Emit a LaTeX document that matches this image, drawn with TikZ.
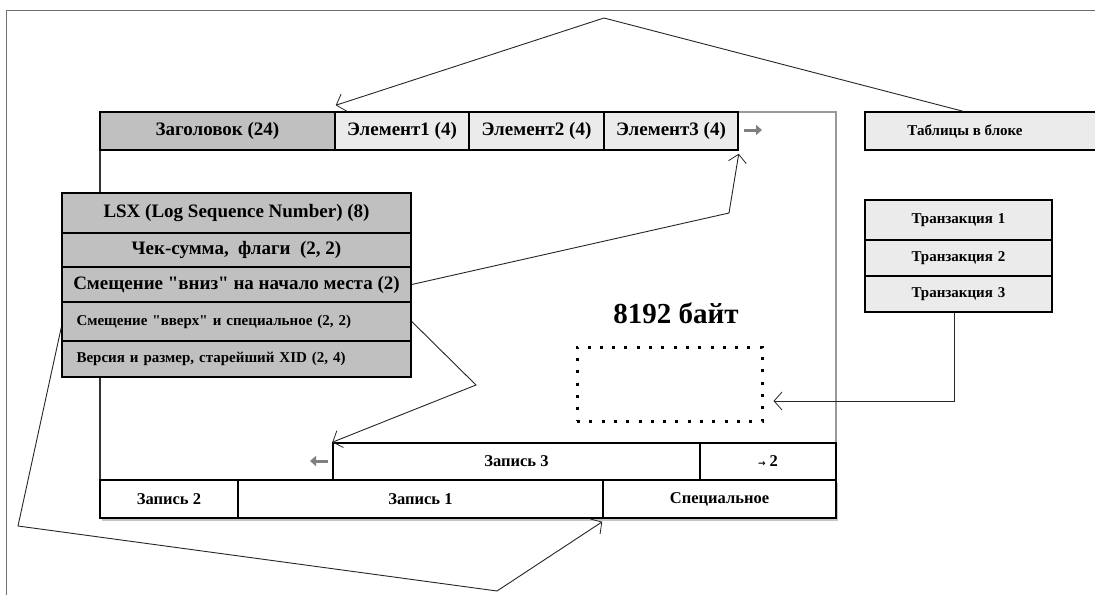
\documentclass[tikz,border=0pt]{standalone}
\usepackage{fontspec}
\setmainfont{Liberation Serif}[Ligatures=TeXOff]
\newfontfamily\symfont{DejaVu Sans}
\usetikzlibrary{arrows.meta,shadows}
\definecolor{cellgray}{HTML}{C0C0C0}
\definecolor{celllight}{HTML}{EBEBEB}
\definecolor{framegray}{HTML}{6E6E6E}
\tikzset{
  cell/.style={draw=black, line width=1.5pt, inner sep=0pt, font=\bfseries},
  big/.style={font=\fontsize{19}{19}\selectfont\bfseries},
  mid/.style={font=\fontsize{16.5}{17}\selectfont\bfseries},
  small/.style={font=\fontsize{15}{15}\selectfont\bfseries},
  shad/.style={drop shadow={shadow xshift=2pt, shadow yshift=-2.5pt, opacity=0.45}},
  conn/.style={draw=black!85, line width=0.9pt},
  tip/.style={-{Straight Barb[length=8pt,width=18pt,line width=0.8pt]}},
  grayarrow/.style={draw=gray, line width=3pt, -{Triangle[length=6pt,width=10pt]}},
}
\begin{document}
\begin{tikzpicture}[x=1pt,y=-1pt]
\useasboundingbox (0,0) rectangle (1095,595);
\fill[white] (0,0) rectangle (1095,595);
% outer frame (top and left)
\draw[framegray, line width=1pt] (6,595) -- (6,10) -- (1095,10);

% main block outline
\draw[gray!80, line width=2pt] (738,112) -- (836,112) -- (836,443);
\draw[black!80, line width=1.5pt] (100,150) -- (100,480);

% header row
\node[cell, big, fill=cellgray, minimum width=235pt, minimum height=38pt] (hdr) at (217.5,131) {Заголовок (24)};
\node[cell, big, fill=celllight, minimum width=134pt, minimum height=38pt] (el1) at (402,131) {Элемент1 (4)};
\node[cell, big, fill=celllight, minimum width=135pt, minimum height=38pt] (el2) at (536.5,131) {Элемент2 (4)};
\node[cell, big, fill=celllight, minimum width=134pt, minimum height=38pt] (el3) at (671,131) {Элемент3 (4)};
\draw[grayarrow] (744,130) -- (762,130);

% page header stack
\node[cell, big, fill=cellgray, minimum width=349pt, minimum height=40pt] (lsx) at (236.5,213) {LSX (Log Sequence Number) (8)};
\node[cell, big, fill=cellgray, minimum width=349pt, minimum height=34pt] (chk) at (236.5,250) {Чек-сумма,\ \ флаги\ \ (2, 2)};
\node[cell, big, fill=cellgray, minimum width=349pt, minimum height=35pt] (down) at (236.5,284.5) {Смещение "вниз" на начало места (2)};
\node[cell, small, fill=cellgray, minimum width=349pt, minimum height=39pt, text width=320pt, align=left] (up) at (236.5,321.5) {Смещение "вверх" и специальное (2, 2)};
\node[cell, small, fill=cellgray, minimum width=349pt, minimum height=36pt, text width=320pt, align=left] (ver) at (236.5,359) {Версия и размер, старейший XID (2, 4)};

% right side tables
\node[cell, fill=celllight, minimum width=240pt, minimum height=38pt] (tbl) at (985,131) {};
\node[small] (tbltxt) at (965,131) {Таблицы в блоке};
\node[cell, small, fill=celllight, minimum width=187pt, minimum height=40pt, text width=173pt, align=center] (tr1) at (958.5,220) {Транзакция 1\hspace*{12pt}};
\node[cell, small, fill=celllight, minimum width=187pt, minimum height=36pt, text width=173pt, align=center] (tr2) at (958.5,258) {Транзакция 2\hspace*{12pt}};
\node[cell, small, fill=celllight, minimum width=187pt, minimum height=36pt, text width=173pt, align=center] (tr3) at (958.5,294) {Транзакция 3\hspace*{12pt}};

% size label and free space
\node[font=\fontsize{29}{29}\selectfont\bfseries] (size) at (676,313) {8192 байт};
\node[draw=black, line width=3pt, dash pattern=on 3pt off 9.3pt, minimum width=185pt, minimum height=74pt, inner sep=0pt] (free) at (669.5,384) {};

% records
\node[cell, mid, fill=white, minimum width=367pt, minimum height=37pt] (r3) at (516.5,461.5) {Запись 3};
\node[cell, mid, fill=white, minimum width=136pt, minimum height=37pt] (r3b) at (768,461.5) {{\symfont\fontsize{9}{9}\selectfont →}\ 2};
\node[cell, mid, fill=white, shad, minimum width=138pt, minimum height=38pt] (z2) at (169,499) {Запись 2};
\node[cell, mid, fill=white, shad, minimum width=365pt, minimum height=38pt] (z1) at (420.5,499) {Запись 1};
\node[cell, mid, fill=white, shad, minimum width=233pt, minimum height=38pt] (sp) at (719.5,499) {Специальное};
\draw[grayarrow] (328,461) -- (310,461);

% connectors
\coordinate (apex) at (604,18);
\draw[conn, tip] ([xshift=-22pt]tbl.north) -- (apex) -- ([yshift=6pt]hdr.north east);

\coordinate (b1) at (729,213);
\draw[conn, tip] (down.east) -- (b1) -- ([yshift=-3pt]el3.south east);

\coordinate (b2) at (476,385);
\draw[conn, tip] (up.east) -- (b2) -- (r3.north west);

\coordinate (b3) at (18,526);
\coordinate (b4) at (497,591);
\draw[conn, tip] ([yshift=-6pt]up.west) -- (b3) -- (b4) -- ([yshift=-3pt]sp.south west);

\coordinate (b5) at (954,401);
\draw[conn, tip] (tr3.south -| b5) -- (b5) -- ([xshift=10pt,yshift=-17pt]free.east);
\end{tikzpicture}
\end{document}
